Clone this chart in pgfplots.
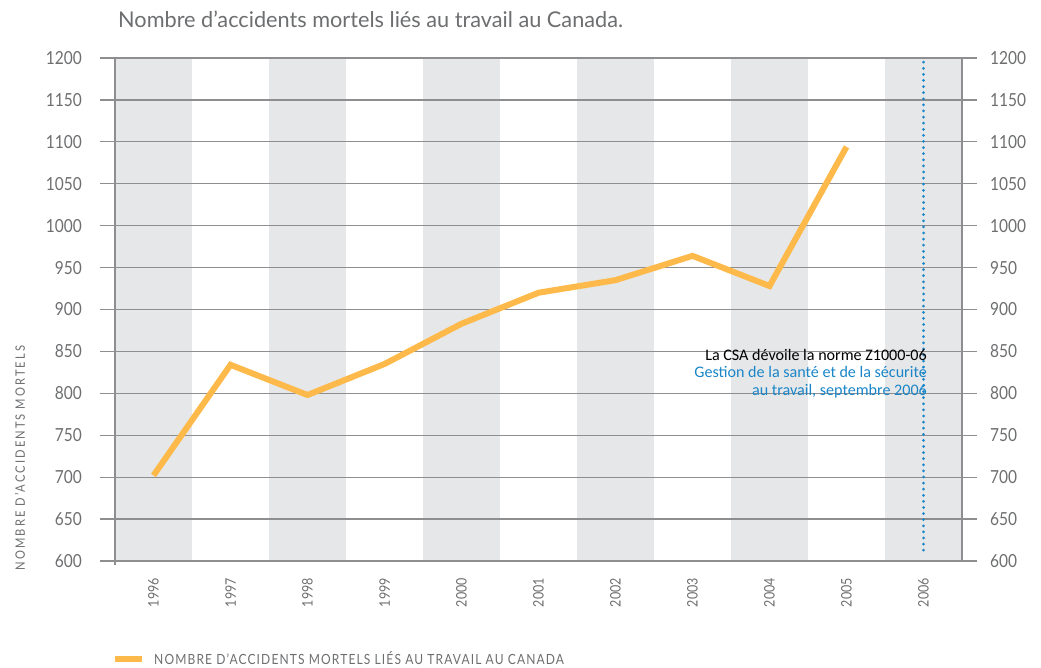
\documentclass[border=0pt]{standalone}
\usepackage{pgfplots}
\pgfplotsset{compat=1.18}
\usepackage{fontspec}
\setmainfont{Lato}[FakeStretch=0.86]
\newfontfamily\titlefont{Lato}
\newfontfamily\annfont{Carlito}
\definecolor{band}{HTML}{E6E7E9}
\definecolor{gridc}{HTML}{8E8E90}
\definecolor{txt}{HTML}{6D6E70}
\definecolor{orangec}{HTML}{FDB94A}
\definecolor{bluec}{HTML}{1A86C8}
\pgfplotsset{
  base/.style={
    at={(115pt,106pt)}, anchor=south west,
    width=847pt, height=503pt, scale only axis,
    xmin=-0.5, xmax=10.5, ymin=600, ymax=1200,
    clip=false,
    axis line style={draw=none},
    major tick length=0pt,
    ytick={600,650,...,1200},
    /pgf/number format/1000 sep={},
    /pgf/number format/assume math mode=true,
    yticklabel style={inner sep=0pt, font=\fontsize{18}{18}\selectfont, text=txt},
  }
}
\begin{document}
\begin{tikzpicture}
\path[use as bounding box] (0pt,0pt) rectangle (1041pt,667pt);
\begin{axis}[base,
  xtick={0,...,10},
  xticklabels={1996,1997,1998,1999,2000,2001,2002,2003,2004,2005,2006},
  xticklabel style={rotate=90, anchor=east, inner sep=0pt, font=\fontsize{14.5}{14.5}\selectfont, text=txt},
  xticklabel shift=17pt,
  yticklabel shift=33pt,
  every axis y label/.style={at={(axis description cs:-0.1122,0.2048)}, anchor=center, rotate=90,
     font=\fontsize{13}{13}\selectfont\addfontfeatures{LetterSpace=16}, text=txt},
  ylabel={NOMBRE D’ACCIDENTS MORTELS},
  legend style={at={(axis description cs:-0.0035,-0.1948)}, anchor=west, draw=none, fill=none, inner sep=0pt,
     nodes={inner sep=0pt}, column sep=9pt,
     font=\fontsize{14}{14}\selectfont\addfontfeatures{LetterSpace=8}, text=txt},
  legend image code/.code={\draw[orangec, line width=6pt] (0pt,0pt) -- (27pt,0pt);},
]
% background bands
\pgfplotsinvokeforeach{0,2,4,6,8,10}{
  \fill[band] (axis cs:#1-0.5,600) rectangle (axis cs:#1+0.5,1200);
}
% grid lines extended past the frame
\pgfplotsinvokeforeach{600,650,...,1200}{
  \draw[gridc, line width=1.2pt] (axis cs:-0.695,#1) -- (axis cs:10.695,#1);
}
\draw[gridc, line width=1.2pt] (axis cs:-0.5,1200) -- (axis cs:-0.5,595);
\draw[gridc, line width=1.2pt] (axis cs:10.5,1200) -- (axis cs:10.5,600);
% dotted marker for 2006
\draw[bluec, line width=3pt, line cap=round, dash pattern=on 0pt off 6.1pt] (axis cs:10,1195) -- (axis cs:10,606);
\addplot[orangec, line width=6pt, line join=miter] coordinates {
  (0,702) (1,834) (2,798) (3,835) (4,883) (5,920) (6,935) (7,964) (8,928) (9,1094)
};
\addlegendentry{NOMBRE D’ACCIDENTS MORTELS LIÉS AU TRAVAIL AU CANADA}
\end{axis}
\begin{axis}[base,
  xtick=\empty,
  yticklabel pos=right,
  yticklabel shift=28pt,
]
\end{axis}
\node[anchor=base west, inner sep=0pt, text=txt, font=\titlefont\fontsize{21.7}{22}\selectfont] at (118pt,639pt)
  {Nombre d’accidents mortels liés au travail au Canada.};
\node[anchor=north east, inner sep=0pt, align=right, font=\annfont\fontsize{16.1}{17.5}\selectfont] at (927pt,318pt)
  {La CSA dévoile la norme Z1000-06\\
   \textcolor{bluec}{Gestion de la santé et de la sécurité}\\
   \textcolor{bluec}{au travail, septembre 2006}};
\end{tikzpicture}
\end{document}
